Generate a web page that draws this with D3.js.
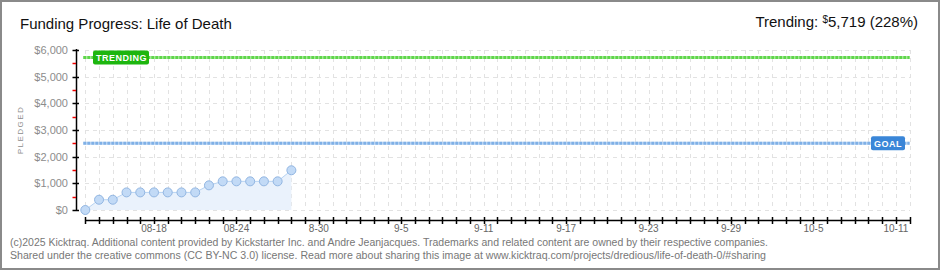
<!DOCTYPE html>
<head>
<meta charset="utf-8">
<script src="https://d3js.org/d3.v7.min.js"></script>
<style>
body { margin: 0; background: #fff; }
text { font-family: "Liberation Sans", Arial, sans-serif; }
text.title { font-size: 15px; fill: #111; }
text.yLabel { font-size: 11px; fill: #8c8c8c; }
text.xLabel { font-size: 10px; fill: #666; }
text.foot { font-size: 10px; fill: #777; }
text.tag { font-size: 9px; font-weight: bold; fill: #fff; letter-spacing: 0.5px; }
.grid line { stroke: #e2e2e2; stroke-dasharray: 4,4; shape-rendering: crispEdges; }
</style>
</head>
<body>
<script>
// campaign data
const dates = ["2025-08-13","2025-08-14","2025-08-15","2025-08-16","2025-08-17","2025-08-18",
   "2025-08-19","2025-08-20","2025-08-21","2025-08-22","2025-08-23","2025-08-24",
   "2025-08-25","2025-08-26","2025-08-27","2025-08-28"];
const pledged = [0, 385, 385, 660, 660, 660, 660, 660, 660, 925, 1075, 1075, 1075, 1075, 1075, 1490];
const goal = 2500;
const trending = 5719;
const trendingPct = 228;
const yTicks = [0, 1000, 2000, 3000, 4000, 5000, 6000];
const xLabelDates = ["2025-08-18","2025-08-24","2025-08-30","2025-09-05","2025-09-11",
   "2025-09-17","2025-09-23","2025-09-29","2025-10-05","2025-10-11"];
const xLabels = ["08-18","08-24","8-30","9-5","9-11","9-17","9-23","9-29","10-5","10-11"];
const axisStart = "2025-08-13", axisEnd = "2025-10-12";

const width = 940, height = 270;
const parse = d3.utcParse("%Y-%m-%d");

const svg = d3.select("body").append("svg")
   .attr("width", width)
   .attr("height", height);

svg.append("rect")
   .attr("x", 1).attr("y", 1)
   .attr("width", width - 2).attr("height", height - 2)
   .attr("fill", "#fff")
   .attr("stroke", "#8a8a8a")
   .attr("stroke-width", 2);

let x = d3.scaleUtc()
   .domain([parse(axisStart), parse(axisEnd)])
   .range([85.3, 909.6]);

let y = d3.scaleLinear()
   .domain([0, 6000])
   .range([210, 50]);

let days = d3.utcDay.range(parse(axisStart), d3.utcDay.offset(parse(axisEnd), 1));

// grid
let grid = svg.append("g").attr("class", "grid");
grid.selectAll("line.v")
   .data(days)
   .enter().append("line")
   .attr("x1", d => Math.round(x(d)) + 0.5)
   .attr("x2", d => Math.round(x(d)) + 0.5)
   .attr("y1", y(6000))
   .attr("y2", y(0));
grid.selectAll("line.h")
   .data(yTicks)
   .enter().append("line")
   .attr("x1", x(parse(axisStart)))
   .attr("x2", x(parse(axisEnd)))
   .attr("y1", d => Math.round(y(d)) + 0.5)
   .attr("y2", d => Math.round(y(d)) + 0.5);

// goal + trending lines
const refLine = function(val, col, light) {
   svg.append("line")
      .attr("x1", x(parse(axisStart)) - 2).attr("x2", x(parse(axisEnd)))
      .attr("y1", y(val)).attr("y2", y(val))
      .attr("stroke", light).attr("stroke-width", 3);
   svg.append("line")
      .attr("x1", x(parse(axisStart)) - 2).attr("x2", x(parse(axisEnd)))
      .attr("y1", y(val)).attr("y2", y(val))
      .attr("stroke", col).attr("stroke-width", 3)
      .attr("stroke-dasharray", "3,1");
};
refLine(trending, "#5fd64a", "#c4efbb");
refLine(goal, "#7fb0e6", "#cfe2f7");

// area + line + points
const series = dates.map((d, i) => ({date: parse(d), value: pledged[i]}));

svg.append("path")
   .datum(series)
   .attr("fill", "#eaf2fc")
   .attr("d", d3.area().x(d => x(d.date)).y0(y(0)).y1(d => y(d.value)));

svg.append("path")
   .datum(series)
   .attr("fill", "none")
   .attr("stroke", "#b7d3f2")
   .attr("stroke-width", 1)
   .attr("d", d3.line().x(d => x(d.date)).y(d => y(d.value)));

svg.selectAll("circle.pt")
   .data(series)
   .enter().append("circle")
   .attr("class", "pt")
   .attr("cx", d => x(d.date))
   .attr("cy", d => y(d.value))
   .attr("r", 4.5)
   .attr("fill", "#c2daf6")
   .attr("stroke", "#92b6e2")
   .attr("stroke-width", 1);

// y axis
svg.append("line")
   .attr("x1", 76.5).attr("x2", 76.5)
   .attr("y1", y(6000) - 1).attr("y2", y(0) + 1)
   .attr("stroke", "#000").attr("stroke-width", 1.5);
svg.selectAll("line.ytick")
   .data(yTicks)
   .enter().append("line")
   .attr("x1", 72.5).attr("x2", 79)
   .attr("y1", d => Math.round(y(d)) + 0.5)
   .attr("y2", d => Math.round(y(d)) + 0.5)
   .attr("stroke", "#000").attr("stroke-width", 1.5);
svg.selectAll("line.ymin")
   .data(yTicks.slice(0, -1))
   .enter().append("line")
   .attr("x1", 72.5).attr("x2", 76)
   .attr("y1", d => Math.round(y(d + 500)) + 0.5)
   .attr("y2", d => Math.round(y(d + 500)) + 0.5)
   .attr("stroke", "#e00").attr("stroke-width", 1.5);
svg.selectAll("text.yLabel")
   .data(yTicks)
   .enter().append("text")
   .attr("class", "yLabel")
   .attr("x", 68)
   .attr("y", d => y(d) + 4)
   .style("text-anchor", "end")
   .text(d => "$" + d3.format(",")(d));

svg.append("text")
   .attr("class", "yLabel")
   .attr("transform", "translate(23,130) rotate(-90)")
   .style("text-anchor", "middle")
   .style("font-size", "8px")
   .style("letter-spacing", "1.5px")
   .text("PLEDGED");

// x axis
svg.append("line")
   .attr("x1", x(parse(axisStart))).attr("x2", x(parse(axisEnd)) + 1)
   .attr("y1", 220.5).attr("y2", 220.5)
   .attr("stroke", "#000").attr("stroke-width", 1.5);
svg.selectAll("line.xtick")
   .data(days)
   .enter().append("line")
   .attr("x1", d => Math.round(x(d)) + 0.5)
   .attr("x2", d => Math.round(x(d)) + 0.5)
   .attr("y1", 217).attr("y2", 224)
   .attr("stroke", "#000").attr("stroke-width", 1.5);
svg.selectAll("text.xLabel")
   .data(xLabelDates)
   .enter().append("text")
   .attr("class", "xLabel")
   .attr("x", d => x(parse(d)))
   .attr("y", 232)
   .style("text-anchor", "middle")
   .text((d, i) => xLabels[i]);

// tags
const tag = function(tx, val, w, col, label) {
   svg.append("rect")
      .attr("x", tx).attr("y", y(val) - 7)
      .attr("width", w).attr("height", 14)
      .attr("rx", 2)
      .attr("fill", col);
   svg.append("text")
      .attr("class", "tag")
      .attr("x", tx + 3).attr("y", y(val) + 3.5)
      .text(label);
};
tag(93, trending, 56, "#1db60f", "TRENDING");
tag(871, goal, 34, "#3a86d8", "GOAL");

// titles
svg.append("text")
   .attr("class", "title")
   .attr("x", 20).attr("y", 29)
   .text("Funding Progress: Life of Death");

let tr = svg.append("text")
   .attr("class", "title")
   .attr("x", 918).attr("y", 27)
   .style("text-anchor", "end");
tr.append("tspan").text("Trending:  ");
tr.append("tspan").style("font-size", "10px").attr("dy", -4).text("$");
tr.append("tspan").attr("dy", 4).text(d3.format(",")(trending) + " (" + trendingPct + "%)");

// footer
svg.append("text")
   .attr("class", "foot")
   .attr("x", 10).attr("y", 246)
   .attr("textLength", 758).attr("lengthAdjust", "spacingAndGlyphs")
   .text("(c)2025 Kicktraq. Additional content provided by Kickstarter Inc. and Andre Jeanjacques. Trademarks and related content are owned by their respective companies.");
svg.append("text")
   .attr("class", "foot")
   .attr("x", 10).attr("y", 259)
   .attr("textLength", 756).attr("lengthAdjust", "spacingAndGlyphs")
   .text("Shared under the creative commons (CC BY-NC 3.0) license. Read more about sharing this image at www.kicktraq.com/projects/dredious/life-of-death-0/#sharing");
</script>
</body>
